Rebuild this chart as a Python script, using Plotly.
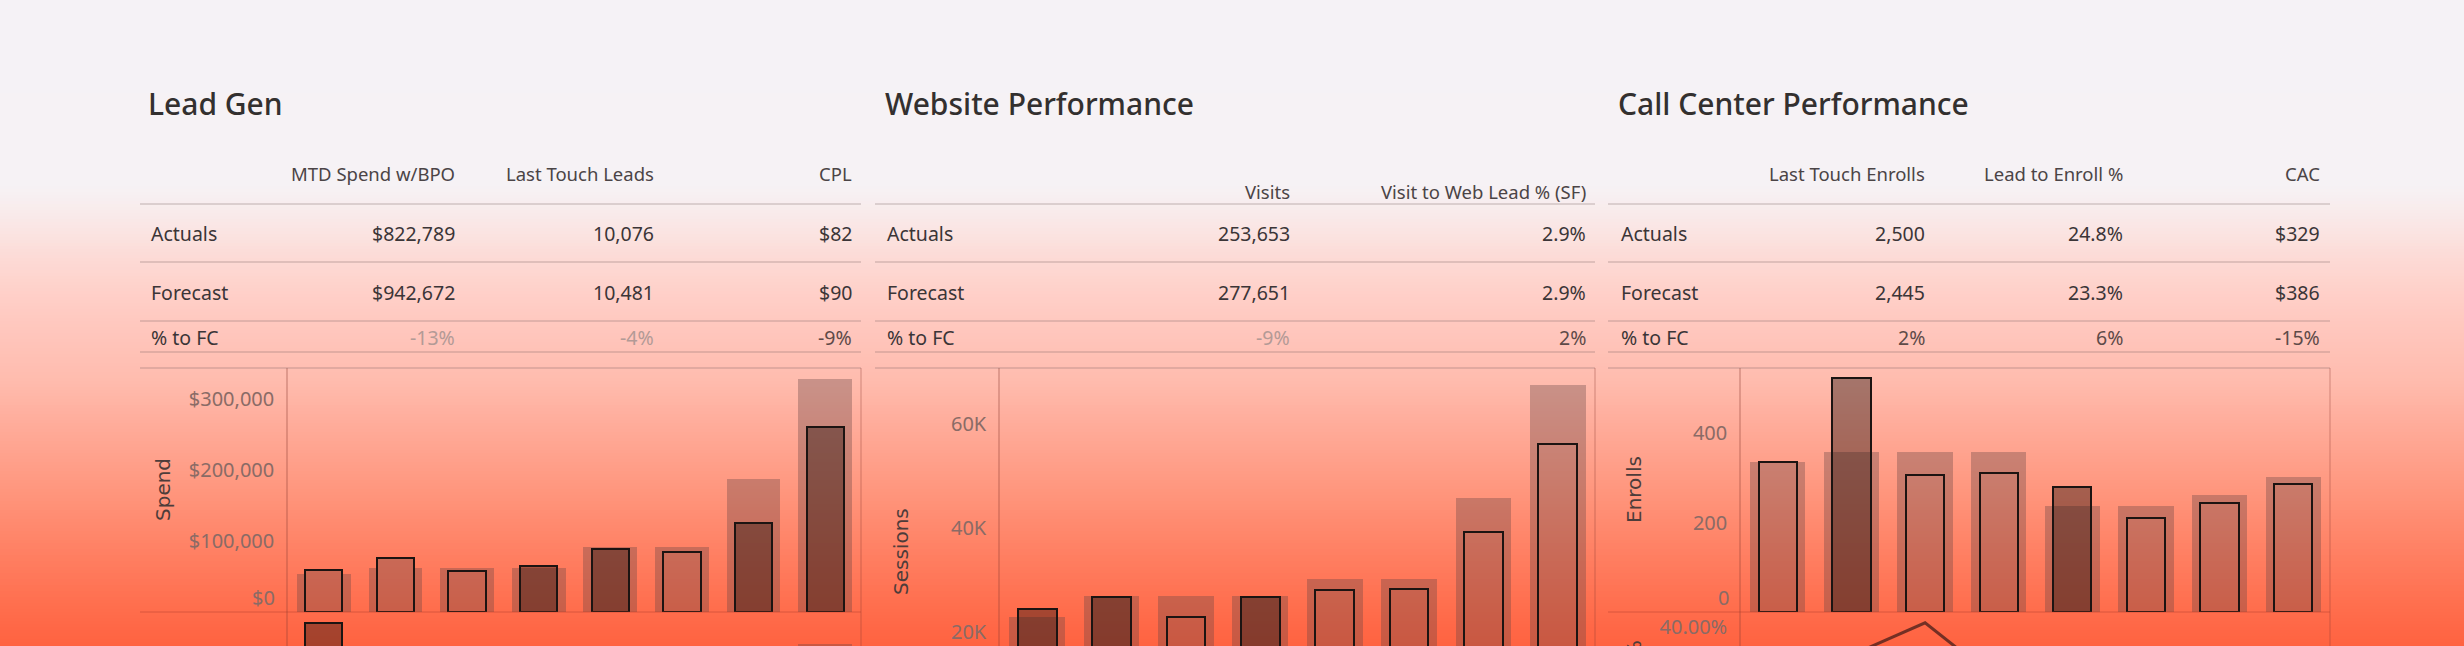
import plotly.graph_objects as go

W, H = 2464, 646

# ---------------- data ----------------
periods = ["P1", "P2", "P3", "P4", "P5", "P6", "P7", "P8"]

lead_title = "Lead Gen"
lead_headers = ["MTD Spend w/BPO", "Last Touch Leads", "CPL"]
lead_actuals = ["$822,789", "10,076", "$82"]
lead_forecast = ["$942,672", "10,481", "$90"]
lead_pct = ["-13%", "-4%", "-9%"]
lead_pct_muted = [True, True, False]

web_title = "Website Performance"
web_headers = ["Visits", "Visit to Web Lead % (SF)"]
web_actuals = ["253,653", "2.9%"]
web_forecast = ["277,651", "2.9%"]
web_pct = ["-9%", "2%"]
web_pct_muted = [True, False]

cc_title = "Call Center Performance"
cc_headers = ["Last Touch Enrolls", "Lead to Enroll %", "CAC"]
cc_actuals = ["2,500", "24.8%", "$329"]
cc_forecast = ["2,445", "23.3%", "$386"]
cc_pct = ["2%", "6%", "-15%"]
cc_pct_muted = [False, False, False]

row_labels = ["Actuals", "Forecast", "% to FC"]

spend_forecast = [53500, 62000, 62000, 62000, 91500, 91500, 187000, 328000]
spend_actual = [59000, 76000, 58000, 65000, 89000, 84500, 125000, 260000]
spend_dark = [0, 0, 0, 1, 1, 0, 1, 1]

leads_forecast = [1350, 1200, 1150, 1150, 1250, 1250, 1250, 1880]
leads_actual = [2090, 1100, 1050, 1000, 1150, 1050, 1200, 1436]
leads_dark = [1, 0, 0, 0, 0, 0, 0, 0]

sessions_forecast = [22900, 26900, 26900, 26900, 30200, 30200, 45800, 67500]
sessions_actual = [24400, 26700, 22900, 26700, 28100, 28300, 39200, 56200]
sessions_dark = [1, 1, 0, 1, 0, 0, 0, 0]

enrolls_forecast = [335, 358, 358, 358, 237, 237, 261, 301]
enrolls_actual = [336, 524, 307, 311, 280, 211, 244, 287]
enrolls_dark = [0, 1, 0, 0, 1, 0, 0, 0]

enroll_rate = [24.0, 35.3, 40.7, 31.0, 22.5, 20.0, 21.5, 23.0]

spend_ticks = [100000, 200000, 300000]
spend_ticktext = ["$100,000", "$200,000", "$300,000"]
session_ticks = [20000, 40000, 60000]
session_ticktext = ["20K", "40K", "60K"]
enroll_ticks = [200, 400]
enroll_ticktext = ["200", "400"]
rate_ticks = [40]
rate_ticktext = ["40.00%"]

# ---------------- style ----------------
FONT = "Noto Sans"
AX_FONT = "DejaVu Sans"
TXT = "#3b3537"
HDR = "#4b4446"
MUTED = "#b39a96"
MID = "#5e4a48"
TICK = "#8a6b66"
FC_COLOR = "rgba(100,70,70,0.35)"
DARK_COLOR = "rgba(40,18,15,0.42)"
CLEAR = "rgba(0,0,0,0)"
OUTLINE = "#1c1412"
TABLE_LINE = "rgba(120,100,100,0.30)"
FRAME_LINE = "rgba(140,60,50,0.28)"
BODY = 19.5
HEAD = 18.5
TICKSZ = 20


def X(px):
    return px / W


def Y(py):
    return 1 - py / H


fig = go.Figure()

# ---------------- background gradient ----------------
stops = [(0, (245, 242, 246)), (185, (246, 242, 245)), (215, (249, 234, 234)),
         (260, (253, 218, 213)), (300, (255, 206, 198)), (340, (255, 196, 186)),
         (380, (255, 188, 174)), (430, (255, 170, 152)), (480, (255, 154, 130)),
         (540, (255, 132, 104)), (600, (255, 112, 80)), (646, (255, 98, 64))]


def grad(py):
    for (a, ca), (b, cb) in zip(stops[:-1], stops[1:]):
        if a <= py <= b:
            t = (py - a) / (b - a)
            return tuple(round(ca[i] + (cb[i] - ca[i]) * t) for i in range(3))
    return stops[-1][1]


shapes = []
step = 3
for py in range(0, H, step):
    c = grad(py + step / 2)
    shapes.append(dict(type="rect", xref="paper", yref="paper", x0=0, x1=1,
                       y0=Y(min(py + step + 1, H)), y1=Y(py), layer="below",
                       line=dict(width=0), fillcolor="rgb(%d,%d,%d)" % c))

# ---------------- tables ----------------
annotations = []


def text(x, y, s, anchor="left", size=BODY, color=TXT, family=FONT, weight=None):
    f = dict(family=family, size=size, color=color)
    if weight:
        f["weight"] = weight
    annotations.append(dict(x=X(x), y=Y(y), xref="paper", yref="paper", text=s,
                            showarrow=False, xanchor=anchor, yanchor="middle",
                            font=f))


def hline(x0, x1, y, color=TABLE_LINE, width=1.5):
    shapes.append(dict(type="line", xref="paper", yref="paper", x0=X(x0), x1=X(x1),
                       y0=Y(y), y1=Y(y), line=dict(color=color, width=width)))


def vline(x, y0, y1, color=FRAME_LINE, width=1.5):
    shapes.append(dict(type="line", xref="paper", yref="paper", x0=X(x), x1=X(x),
                       y0=Y(y0), y1=Y(y1), line=dict(color=color, width=width)))


def table(title, title_x, label_x, left, right, col_right, header_y,
          headers, actual, forecast, pct, muted):
    text(title_x, 104, title, size=30, color="#33302f", weight=500)
    for cx, h in zip(col_right, headers):
        text(cx, header_y, h, anchor="right", size=HEAD, color=HDR)
    for ry, lab in zip([234, 292, 337], row_labels):
        text(label_x, ry, lab)
    for cx, v in zip(col_right, actual):
        text(cx, 234, v, anchor="right")
    for cx, v in zip(col_right, forecast):
        text(cx, 292, v, anchor="right")
    for cx, v, m in zip(col_right, pct, muted):
        text(cx, 337, v, anchor="right", color=MUTED if m else MID)
    for ly in [204, 262, 321, 352, 368]:
        hline(left, right, ly)


table(lead_title, 146, 149, 140, 861, [457, 656, 854], 173,
      lead_headers, lead_actuals, lead_forecast, lead_pct, lead_pct_muted)
table(web_title, 883, 885, 875, 1595, [1292, 1588], 191,
      web_headers, web_actuals, web_forecast, web_pct, web_pct_muted)
table(cc_title, 1616, 1619, 1608, 2330, [1927, 2125, 2322], 173,
      cc_headers, cc_actuals, cc_forecast, cc_pct, cc_pct_muted)

# chart frames
vline(861, 368, 646)
vline(1595, 368, 646)
vline(2330, 368, 646)
hline(140, 861, 612, color="rgba(170,60,40,0.30)", width=1.5)
hline(1608, 2330, 612, color="rgba(170,60,40,0.30)", width=1.5)

# axis titles
for x, y, s in [(163, 490, "Spend"), (901, 551, "Sessions"), (1634, 490, "Enrolls"),
                (1634, 722, "Lead to Enroll %")]:
    annotations.append(dict(x=X(x), y=Y(y), xref="paper", yref="paper", text=s,
                            showarrow=False, textangle=-90, xanchor="center",
                            yanchor="middle",
                            font=dict(family=AX_FONT, size=20, color="#4d3c3a")))

# ---------------- charts ----------------
xs = list(range(len(periods)))


def bar_panel(n, fc, ac, dark):
    xa = "x" if n == 1 else "x%d" % n
    ya = "y" if n == 1 else "y%d" % n
    fig.add_trace(go.Bar(x=xs, y=fc, width=0.75, marker=dict(color=FC_COLOR, line=dict(width=0)),
                         xaxis=xa, yaxis=ya, showlegend=False, hoverinfo="skip"))
    # fill the part of light actual bars that rises above forecast
    excess = [max(a - f, 0) if not d else 0 for a, f, d in zip(ac, fc, dark)]
    fig.add_trace(go.Bar(x=xs, y=excess, base=fc, width=0.52,
                         marker=dict(color=FC_COLOR, line=dict(width=0)),
                         xaxis=xa, yaxis=ya, showlegend=False, hoverinfo="skip"))
    fig.add_trace(go.Bar(x=xs, y=ac, width=0.52,
                         marker=dict(color=[DARK_COLOR if d else CLEAR for d in dark],
                                     line=dict(width=2, color=OUTLINE)),
                         xaxis=xa, yaxis=ya, showlegend=False, hoverinfo="skip"))


bar_panel(1, spend_forecast, spend_actual, spend_dark)
bar_panel(2, leads_forecast, leads_actual, leads_dark)
bar_panel(3, sessions_forecast, sessions_actual, sessions_dark)
bar_panel(4, enrolls_forecast, enrolls_actual, enrolls_dark)
fig.add_trace(go.Scatter(x=xs, y=enroll_rate, mode="lines",
                         line=dict(color="rgba(70,30,25,0.75)", width=3),
                         xaxis="x5", yaxis="y5", showlegend=False, hoverinfo="skip"))

# "$0" and "0" labels sit just above the baseline
for yref_ax, xr, s in [("y", 277, "$0"), ("y4", 1731, "0")]:
    annotations.append(dict(x=X(xr), y=0, xref="paper", yref=yref_ax, text=s,
                            showarrow=False, xanchor="right", yanchor="middle",
                            yshift=15, font=dict(family=FONT, size=TICKSZ, color=TICK)))


def xax(d0, d1, anchor):
    return dict(domain=[X(d0), X(d1)], range=[-0.5, 7.5], anchor=anchor,
                showgrid=False, zeroline=False, showticklabels=False, showline=False,
                fixedrange=True)


def yax(top, bottom, rng, anchor, tv=None, tt=None):
    d = dict(domain=[Y(bottom), Y(top)], range=rng, anchor=anchor, showgrid=False,
             zeroline=False, showline=True, linecolor=FRAME_LINE, linewidth=1.5,
             fixedrange=True)
    if tv is None:
        d.update(showticklabels=False, ticks="")
    else:
        d.update(tickvals=tv, ticktext=tt, ticks="outside", ticklen=8,
                 tickcolor="rgba(0,0,0,0)",
                 tickfont=dict(family=FONT, size=TICKSZ, color=TICK))
    return d


px_per_k_spend = 71 / 100000
fig.update_layout(
    xaxis=xax(288, 861, "y"),
    yaxis=yax(368, 612, [0, (612 - 368) / px_per_k_spend], "x", spend_ticks, spend_ticktext),
    xaxis2=xax(288, 861, "y2"),
    yaxis2=yax(612, 646, [1860, 2200], "x2"),
    xaxis3=xax(1000, 1595, "y3"),
    yaxis3=yax(368, 646, [(736 - 646) / 5.2 * 1000, (736 - 368) / 5.2 * 1000], "x3",
               session_ticks, session_ticktext),
    xaxis4=xax(1741, 2330, "y4"),
    yaxis4=yax(368, 612, [0, (612 - 368) / 0.4475], "x4", enroll_ticks, enroll_ticktext),
    xaxis5=xax(1741, 2330, "y5"),
    yaxis5=yax(612, 646, [40 - (646 - 627) / 6, 40 + (627 - 612) / 6], "x5",
               rate_ticks, rate_ticktext),
)

fig.update_layout(
    width=W, height=H, margin=dict(l=0, r=0, t=0, b=0),
    paper_bgcolor="#f6f3f6", plot_bgcolor="rgba(0,0,0,0)",
    barmode="overlay", bargap=0, shapes=shapes, annotations=annotations,
    showlegend=False,
)

fig.write_html("out.html", config={"displayModeBar": False})
